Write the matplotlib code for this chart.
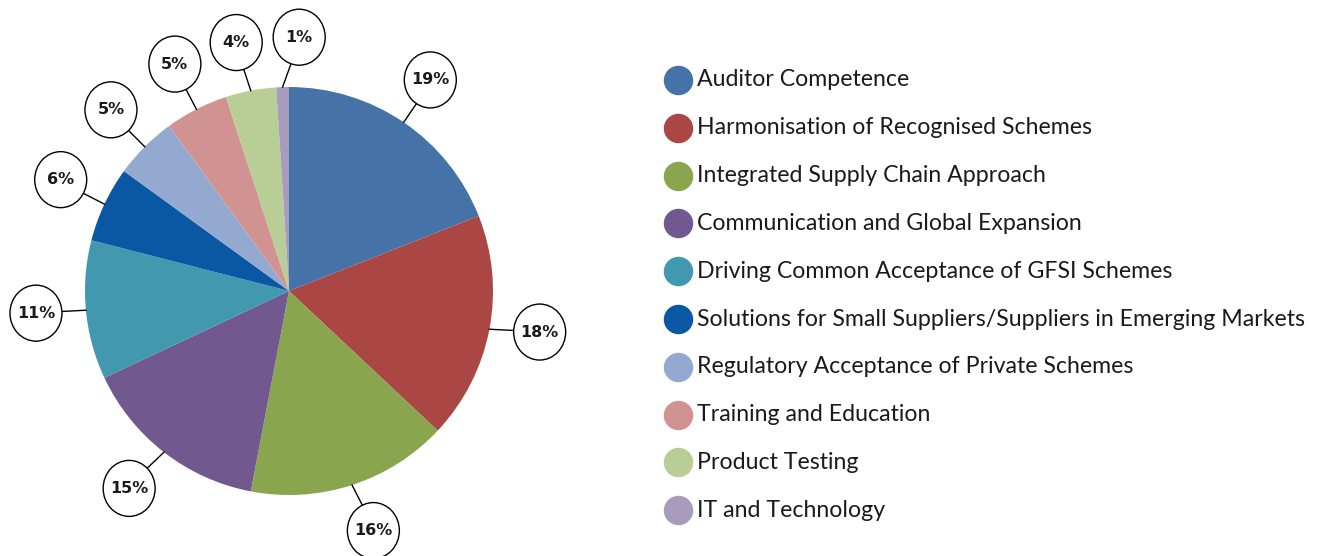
import numpy as np
import matplotlib.pyplot as plt
from matplotlib.patches import Ellipse

categories = ['Auditor Competence',
              'Harmonisation of Recognised Schemes',
              'Integrated Supply Chain Approach',
              'Communication and Global Expansion',
              'Driving Common Acceptance of GFSI Schemes',
              'Solutions for Small Suppliers/Suppliers in Emerging Markets',
              'Regulatory Acceptance of Private Schemes',
              'Training and Education',
              'Product Testing',
              'IT and Technology']
values = [19, 18, 16, 15, 11, 6, 5, 5, 4, 1]
colors = ['#4573a7', '#aa4744', '#89a54e', '#71588f', '#4298af',
          '#0a58a4', '#93a9cf', '#d19392', '#b9cd96', '#a99bbd']

# label bubbles: small angular nudges (degrees) so they don't collide
label_nudge = [0.4, 1.5, 1.4, -1.2, -0.4, -0.8, -0.5, -0.3, 1.2, -4.1]

W, H = 1322, 556
fig = plt.figure(figsize=(W / 100, H / 100), dpi=100)
ax = fig.add_axes([0, 0, 1, 1])

cx, cy, r = 289, H - 291, 204
ax.pie(values, colors=colors, startangle=90, counterclock=False,
       center=(cx, cy), radius=r, wedgeprops=dict(linewidth=0))

# percentage bubbles with leader lines
start = 90.0
for v, nudge in zip(values, label_nudge):
    mid = start - v * 3.6 / 2
    start -= v * 3.6
    la = np.radians(mid + nudge)
    lx, ly = cx + 254 * np.cos(la), cy + 254 * np.sin(la)
    ex, ey = cx + r * np.cos(np.radians(mid)), cy + r * np.sin(np.radians(mid))
    d = np.array([ex - lx, ey - ly])
    d = d / np.linalg.norm(d)
    ax.plot([ex, lx + d[0] * 26], [ey, ly + d[1] * 28], color='black', lw=1)
    ax.add_patch(Ellipse((lx, ly), 52, 56, facecolor='white',
                         edgecolor='black', lw=1, zorder=3))
    ax.text(lx, ly, f'{v}%', ha='center', va='center', fontsize=11.5,
            fontweight='bold', color='#1a1a1a', zorder=4)

# legend
for i, (name, c) in enumerate(zip(categories, colors)):
    y = H - (80 + i * 47.8)
    ax.scatter([678], [y], s=27 ** 2 * 0.56, color=c, zorder=3)
    ax.text(697, y, name, ha='left', va='center', fontsize=16.7,
            color='#1a1a1a', family='Lato')

ax.set_xlim(0, W)
ax.set_ylim(0, H)
ax.set_aspect('auto')
ax.axis('off')

fig.savefig('out.png', dpi=100)
